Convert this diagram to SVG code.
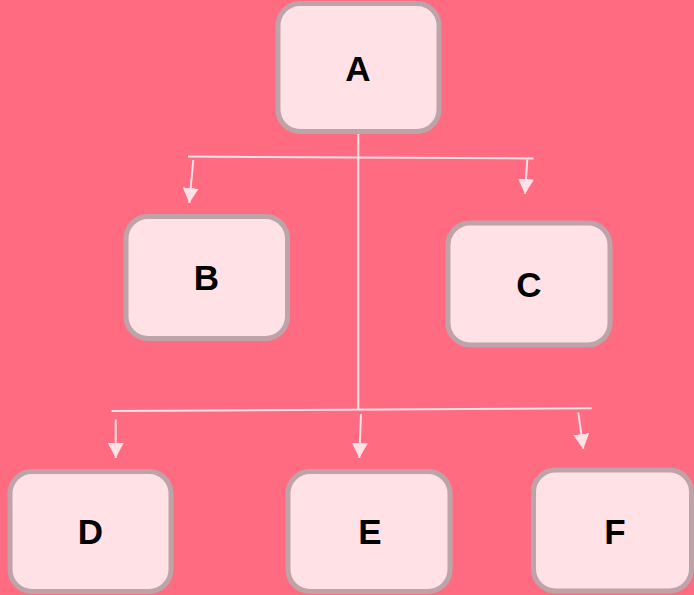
<svg xmlns="http://www.w3.org/2000/svg" width="694" height="595" viewBox="0 0 694 595">
  <style>
    .box { fill: #FFE1E6; stroke: #BDA4A8; stroke-width: 5; }
    .lbl { font-family: "Liberation Sans", Arial, sans-serif; font-weight: bold; font-size: 35px; fill: #000000; text-anchor: middle; }
    .ln { stroke: #FFE1E6; stroke-width: 2; fill: none; }
    .arr { stroke: #FFE1E6; stroke-width: 2; fill: none; marker-end: url(#ah); }
  </style>
  <defs>
    <marker id="ah" markerUnits="userSpaceOnUse" markerWidth="15" markerHeight="16" refX="15" refY="8" orient="auto">
      <path d="M0,0 L15,8 L0,16 Z" fill="#FFE1E6"/>
    </marker>
  </defs>
  <rect x="0" y="0" width="694" height="595" fill="#FF6B81"/>
  <g id="connectors">
    <line class="ln" x1="358.3" y1="131" x2="358.3" y2="410"/>
    <line class="ln" x1="188" y1="156.5" x2="533.5" y2="158.5"/>
    <line class="arr" x1="193.3" y1="160" x2="189.3" y2="203"/>
    <line class="arr" x1="527.3" y1="159.5" x2="525" y2="194"/>
    <line class="ln" x1="111.5" y1="411" x2="591.7" y2="408.3"/>
    <line class="arr" x1="115.7" y1="419.5" x2="115.7" y2="458"/>
    <line class="arr" x1="361" y1="414" x2="359.3" y2="458"/>
    <line class="arr" x1="578.3" y1="412.3" x2="583.3" y2="449"/>
  </g>
  <g id="node-A">
    <rect class="box" x="278" y="3.5" width="161" height="128" rx="22"/>
    <text class="lbl" x="358" y="81">A</text>
  </g>
  <g id="node-B">
    <rect class="box" x="126" y="216.5" width="161.5" height="122" rx="22"/>
    <text class="lbl" x="206.5" y="290">B</text>
  </g>
  <g id="node-C">
    <rect class="box" x="448" y="223" width="162" height="122" rx="22"/>
    <text class="lbl" x="529" y="297">C</text>
  </g>
  <g id="node-D">
    <rect class="box" x="10" y="471.5" width="161" height="120" rx="22"/>
    <text class="lbl" x="90.5" y="544">D</text>
  </g>
  <g id="node-E">
    <rect class="box" x="288" y="471.5" width="162" height="120" rx="22"/>
    <text class="lbl" x="370" y="544">E</text>
  </g>
  <g id="node-F">
    <rect class="box" x="533.5" y="470" width="158" height="121" rx="22"/>
    <text class="lbl" x="615" y="544">F</text>
  </g>
</svg>
